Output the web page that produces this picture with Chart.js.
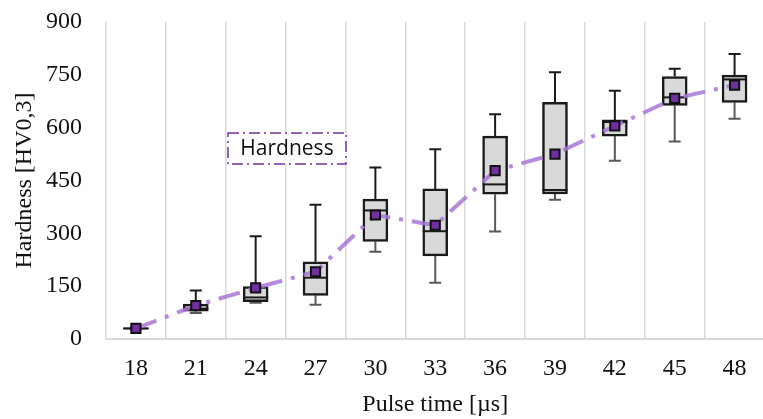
<!DOCTYPE html>
<html lang="en">
<head>
  <meta charset="UTF-8" />
  <title>Hardness vs pulse time</title>
  <script src="https://cdn.jsdelivr.net/npm/chart.js"></script>
  <style>
    html, body {
      margin: 0;
      background: #fff;
      overflow: hidden;
    }
    /* plot runs a bit past the right edge, like the original crop */
    .chart-wrap {
      width: 773px;
      height: 419px;
      position: relative;
    }
  </style>
</head>
<body>
  <div class="chart-wrap">
    <canvas id="hardnessChart" role="img" aria-label="Box plot of hardness per pulse time"></canvas>
  </div>

  <script>
    // data
    const pulseTimes = ['18', '21', '24', '27', '30', '33', '36', '39', '42', '45', '48'];
    const whiskerMin = [27, 74, 103, 97, 248, 160, 305, 395, 506, 561, 625];
    const q1 = [28, 79, 106, 124, 277, 236, 411, 412, 576, 663, 672];
    const median = [30, 86, 118, 174, 365, 306, 439, 423, 616, 686, 737];
    const q3 = [32, 99, 149, 219, 397, 426, 576, 672, 622, 745, 749];
    const whiskerMax = [33, 138, 292, 381, 487, 539, 638, 757, 705, 767, 809];
    const meanHardness = [30, 95, 145, 191, 352, 323, 478, 525, 605, 683, 721];
    const yTicks = [0, 150, 300, 450, 600, 750, 900];

    const serif = "'Liberation Serif', 'Times New Roman', serif";
    const gridGray = '#d9d9d9';
    const purple = '#7030a0';

    // whiskers behind the boxes, medians on top of them
    const boxExtras = {
      id: 'boxExtras',
      beforeDatasetsDraw(chart) {
        const ctx = chart.ctx;
        const x = chart.scales.x, y = chart.scales.y;
        const cap = 6;
        ctx.save();
        ctx.lineWidth = 2;
        pulseTimes.forEach((_, i) => {
          const cx = x.getPixelForValue(i);
          ctx.strokeStyle = '#1a1a1a';
          ctx.beginPath();
          ctx.moveTo(cx, y.getPixelForValue(q3[i]));
          ctx.lineTo(cx, y.getPixelForValue(whiskerMax[i]));
          ctx.moveTo(cx - cap, y.getPixelForValue(whiskerMax[i]));
          ctx.lineTo(cx + cap, y.getPixelForValue(whiskerMax[i]));
          ctx.stroke();
          ctx.strokeStyle = '#595959';
          ctx.beginPath();
          ctx.moveTo(cx, y.getPixelForValue(q1[i]));
          ctx.lineTo(cx, y.getPixelForValue(whiskerMin[i]));
          ctx.moveTo(cx - cap, y.getPixelForValue(whiskerMin[i]));
          ctx.lineTo(cx + cap, y.getPixelForValue(whiskerMin[i]));
          ctx.stroke();
        });
        ctx.restore();
      },
      afterDatasetDraw(chart, args) {
        if (args.index !== 0) return;
        const ctx = chart.ctx;
        const y = chart.scales.y;
        ctx.save();
        ctx.strokeStyle = '#1a1a1a';
        ctx.lineWidth = 2;
        args.meta.data.forEach((bar, i) => {
          const py = y.getPixelForValue(median[i]);
          ctx.beginPath();
          ctx.moveTo(bar.x - bar.width / 2, py);
          ctx.lineTo(bar.x + bar.width / 2, py);
          ctx.stroke();
        });
        ctx.restore();
      }
    };

    // dash-dot framed legend inside the plot
    const framedLegend = {
      id: 'framedLegend',
      afterDraw(chart) {
        const ctx = chart.ctx;
        const a = chart.chartArea;
        const bx = a.left + 122, by = a.top + 111, bw = 118, bh = 31;
        ctx.save();
        ctx.fillStyle = '#fff';
        ctx.fillRect(bx, by, bw, bh);
        ctx.strokeStyle = purple;
        ctx.lineWidth = 1.5;
        ctx.setLineDash([11, 4, 2, 4]);
        ctx.strokeRect(bx, by, bw, bh);
        ctx.setLineDash([]);
        ctx.fillStyle = '#111';
        ctx.font = "21px 'Open Sans', sans-serif";
        ctx.textAlign = 'center';
        ctx.textBaseline = 'middle';
        ctx.fillText('Hardness', bx + bw / 2, by + bh / 2 + 1);
        ctx.restore();
      }
    };

    new Chart(document.getElementById('hardnessChart'), {
      data: {
        labels: pulseTimes,
        datasets: [
          {
            type: 'bar',
            label: 'IQR',
            data: q1.map((v, i) => [v, q3[i]]),
            backgroundColor: '#d9d9d9',
            borderColor: '#1a1a1a',
            borderWidth: 2.5,
            borderSkipped: false,
            barThickness: 25,
            order: 3
          },
          {
            type: 'line',
            label: 'Hardness',
            data: meanHardness,
            borderColor: 'rgba(168, 120, 214, 0.85)',
            borderWidth: 4,
            borderDash: [22, 9, 4, 9],
            pointRadius: 0,
            fill: false,
            order: 2
          },
          {
            type: 'line',
            label: 'Mean',
            data: meanHardness,
            showLine: false,
            pointStyle: 'rect',
            pointRadius: 6.5,
            pointBackgroundColor: purple,
            pointBorderColor: '#111',
            pointBorderWidth: 2,
            order: 1
          }
        ]
      },
      options: {
        responsive: true,
        maintainAspectRatio: false,
        animation: false,
        layout: { padding: { top: 22, left: 0, right: 0, bottom: 0 } },
        plugins: {
          legend: { display: false },
          tooltip: { enabled: false }
        },
        scales: {
          x: {
            offset: true,
            grid: { offset: true, color: gridGray, lineWidth: 1.5, drawTicks: false },
            border: { color: gridGray, width: 2 },
            ticks: { color: '#111', padding: 15, font: { family: serif, size: 24 } },
            title: {
              display: true,
              text: 'Pulse time [µs]',
              color: '#111',
              padding: { top: 0, bottom: 0 },
              font: { family: serif, size: 24 }
            },
            afterFit: scale => { scale.height = 80; }
          },
          y: {
            min: 0,
            max: 900,
            afterBuildTicks: scale => { scale.ticks = yTicks.map(v => ({ value: v })); },
            grid: { display: false, drawTicks: false },
            border: { display: false },
            ticks: { color: '#111', padding: 24, font: { family: serif, size: 24 } },
            title: {
              display: true,
              text: 'Hardness [HV0,3]',
              color: '#111',
              padding: { top: 10, bottom: 0 },
              font: { family: serif, size: 24 }
            },
            afterFit: scale => {
              scale.width = 106;
              // tick padding otherwise pushes the plot top down
              scale.paddingTop = 0;
              scale.paddingBottom = 0;
            }
          }
        }
      },
      plugins: [boxExtras, framedLegend]
    });
  </script>
</body>
</html>
